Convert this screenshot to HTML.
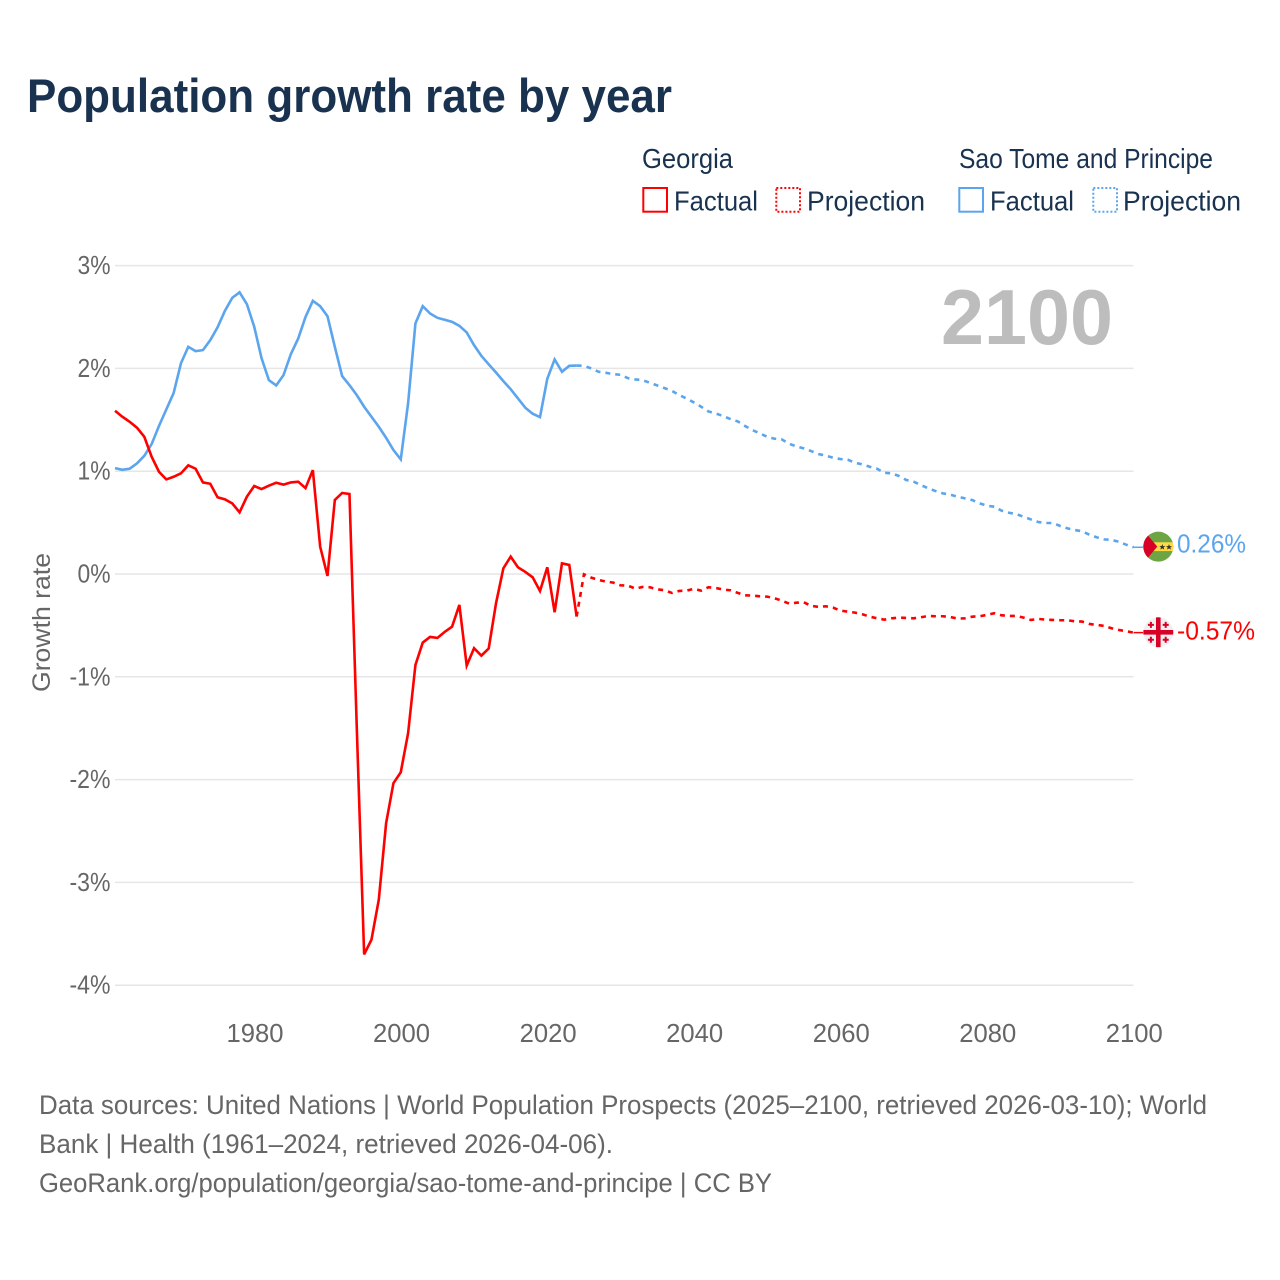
<!DOCTYPE html>
<html lang="en">
<head>
<meta charset="utf-8">
<title>Population growth rate by year</title>
<style>
html,body{margin:0;padding:0;background:#fff;}
svg{display:block;}
text{font-family:"Liberation Sans",sans-serif;}
</style>
</head>
<body>
<svg id="chart" xmlns="http://www.w3.org/2000/svg" width="1280" height="1280" viewBox="0 0 1280 1280">
<rect width="1280" height="1280" fill="#fff"/>
<text x="27" y="112" font-size="47" font-weight="700" fill="#18324f" textLength="645" lengthAdjust="spacingAndGlyphs">Population growth rate by year</text>

<g font-size="27.5" fill="#18324f">
<text x="642" y="168" textLength="91" lengthAdjust="spacingAndGlyphs">Georgia</text>
<text x="959" y="168" textLength="254" lengthAdjust="spacingAndGlyphs">Sao Tome and Principe</text>
<rect x="643.3" y="188" width="23.7" height="23.7" fill="none" stroke="#ff0000" stroke-width="2"/>
<text x="674" y="210.5" textLength="84" lengthAdjust="spacingAndGlyphs">Factual</text>
<rect x="776.3" y="188" width="23.7" height="23.7" fill="none" stroke="#ff0000" stroke-width="2" stroke-dasharray="2 2"/>
<text x="807" y="210.5" textLength="118" lengthAdjust="spacingAndGlyphs">Projection</text>
<rect x="959.3" y="188" width="23.7" height="23.7" fill="none" stroke="#5ba5ee" stroke-width="2"/>
<text x="990" y="210.5" textLength="84" lengthAdjust="spacingAndGlyphs">Factual</text>
<rect x="1093.3" y="188" width="23.7" height="23.7" fill="none" stroke="#5ba5ee" stroke-width="2" stroke-dasharray="2 2"/>
<text x="1123" y="210.5" textLength="118" lengthAdjust="spacingAndGlyphs">Projection</text>
</g>

<g id="grid"></g>
<g id="yaxis"></g>
<g id="xaxis"></g>

<text transform="translate(50,622.5) rotate(-90)" text-anchor="middle" font-size="25" fill="#666" textLength="139" lengthAdjust="spacingAndGlyphs">Growth rate</text>
<text x="941" y="344" font-size="78" font-weight="700" fill="#bdbdbd" textLength="172" lengthAdjust="spacingAndGlyphs">2100</text>

<g id="series"></g>

<g id="flag-sao-tome">
<clipPath id="clip-st"><circle cx="0" cy="0" r="15"/></clipPath>
<g clip-path="url(#clip-st)">
<rect x="-15.5" y="-15.5" width="31" height="31" fill="#6da544"/>
<rect x="-15.5" y="-4.4" width="31" height="8.8" fill="#ffda44"/>
<polygon points="-16,-16 -10.3,-11 -1,0 -10.3,11 -16,16" fill="#d80027"/>
<polygon points="4,-2.6 4.8,-0.6 7,-0.6 5.3,0.8 6,3 4,1.7 2,3 2.7,0.8 1,-0.6 3.2,-0.6" fill="#333"/>
<polygon points="10.7,-2.6 11.5,-0.6 13.7,-0.6 12,0.8 12.7,3 10.7,1.7 8.7,3 9.4,0.8 7.7,-0.6 9.9,-0.6" fill="#333"/>
</g>
</g>
<g id="flag-georgia">
<clipPath id="clip-ge"><circle cx="0" cy="0" r="15"/></clipPath>
<g clip-path="url(#clip-ge)">
<rect x="-15.5" y="-15.5" width="31" height="31" fill="#f0f0f0"/>
<rect x="-15.5" y="-2.3" width="31" height="4.6" fill="#d80027"/>
<rect x="-2.3" y="-15.5" width="4.6" height="31" fill="#d80027"/>
<path d="M-8.4-10.4h2v2h2v2h-2v2h-2v-2h-2v-2h2zM6.4-10.4h2v2h2v2h-2v2h-2v-2h-2v-2h2zM-8.4 4.4h2v2h2v2h-2v2h-2v-2h-2v-2h2zM6.4 4.4h2v2h2v2h-2v2h-2v-2h-2v-2h2z" fill="#d80027"/>
</g>
</g>
<g id="endlabels"></g>

<g font-size="26.5" fill="#666">
<text x="39" y="1114" textLength="1168" lengthAdjust="spacingAndGlyphs">Data sources: United Nations | World Population Prospects (2025–2100, retrieved 2026-03-10); World</text>
<text x="39" y="1153" textLength="574" lengthAdjust="spacingAndGlyphs">Bank | Health (1961–2024, retrieved 2026-04-06).</text>
<text x="39" y="1192" textLength="733" lengthAdjust="spacingAndGlyphs">GeoRank.org/population/georgia/sao-tome-and-principe | CC BY</text>
</g>
</svg>
<script>
var yTicks = [3, 2, 1, 0, -1, -2, -3, -4];
var xTicks = [1980, 2000, 2020, 2040, 2060, 2080, 2100];
var factualStartYear = 1961;
var projectionStartYear = 2024;
var georgiaFactual = [1.588,1.530,1.481,1.423,1.335,1.141,0.995,0.920,0.946,0.979,1.057,1.024,0.891,0.878,0.746,0.726,0.687,0.600,0.752,0.856,0.826,0.859,0.888,0.869,0.891,0.898,0.836,1.011,0.266,-0.019,0.720,0.788,0.778,-1.5,-3.70,-3.558,-3.169,-2.424,-2.035,-1.928,-1.549,-0.885,-0.667,-0.612,-0.622,-0.563,-0.512,-0.301,-0.891,-0.722,-0.794,-0.725,-0.285,0.055,0.169,0.065,0.02,-0.032,-0.165,0.065,-0.372,0.104,0.088,-0.414];
var georgiaProjection = [-0.414,-0.003,-0.035,-0.058,-0.074,-0.084,-0.11,-0.113,-0.142,-0.126,-0.129,-0.149,-0.158,-0.184,-0.165,-0.162,-0.145,-0.162,-0.129,-0.136,-0.152,-0.158,-0.184,-0.207,-0.21,-0.217,-0.22,-0.236,-0.259,-0.288,-0.279,-0.275,-0.31,-0.32,-0.314,-0.327,-0.356,-0.366,-0.376,-0.392,-0.415,-0.431,-0.444,-0.431,-0.424,-0.427,-0.431,-0.421,-0.408,-0.411,-0.411,-0.418,-0.434,-0.431,-0.415,-0.411,-0.398,-0.382,-0.402,-0.408,-0.408,-0.424,-0.447,-0.437,-0.444,-0.447,-0.45,-0.45,-0.46,-0.463,-0.486,-0.496,-0.505,-0.528,-0.544,-0.557,-0.57];
var saoTomeFactual = [1.03,1.014,1.024,1.076,1.15,1.264,1.44,1.60,1.76,2.05,2.21,2.168,2.178,2.275,2.40,2.56,2.686,2.74,2.625,2.405,2.10,1.886,1.834,1.935,2.139,2.29,2.50,2.657,2.605,2.508,2.21,1.925,1.837,1.74,1.627,1.53,1.432,1.325,1.206,1.115,1.66,2.437,2.605,2.534,2.492,2.473,2.453,2.414,2.35,2.226,2.122,2.04,1.96,1.876,1.798,1.708,1.617,1.559,1.526,1.90,2.087,1.967,2.025,2.028];
var saoTomeProjection = [2.028,2.025,2.0,1.967,1.957,1.944,1.938,1.905,1.893,1.886,1.860,1.834,1.808,1.782,1.740,1.708,1.669,1.627,1.581,1.562,1.536,1.507,1.484,1.439,1.400,1.368,1.335,1.316,1.309,1.267,1.241,1.222,1.196,1.167,1.151,1.131,1.118,1.112,1.082,1.066,1.043,1.024,0.985,0.979,0.953,0.914,0.898,0.865,0.833,0.807,0.784,0.771,0.752,0.736,0.719,0.687,0.664,0.655,0.616,0.596,0.583,0.557,0.531,0.506,0.496,0.496,0.467,0.444,0.428,0.415,0.382,0.356,0.337,0.331,0.314,0.285,0.26];
var xDomain = [1961, 2100];
var yDomain = [3, -4];
var NS = 'http://www.w3.org/2000/svg';
function xScale(year){ return 115 + (year - xDomain[0]) / (xDomain[1] - xDomain[0]) * (1133.5 - 115); }
function yScale(value){ return 265.6 + (value - yDomain[0]) / (yDomain[1] - yDomain[0]) * (985.2 - 265.6); }
function pathFrom(startYear, values){
  return values.map(function(v, i){
    return (i ? 'L' : 'M') + xScale(startYear + i).toFixed(2) + ' ' + yScale(v).toFixed(2);
  }).join('');
}
function make(tag, parentId, attrs){
  var el = document.createElementNS(NS, tag);
  Object.keys(attrs).forEach(function(k){ el.setAttribute(k, attrs[k]); });
  document.getElementById(parentId).appendChild(el);
  return el;
}
function pct(v){ return v + '%'; }

yTicks.forEach(function(t){
  var line = make('line', 'grid', {x1: 115, x2: 1133.5, y1: yScale(t), y2: yScale(t), stroke: '#e6e6e6', 'stroke-width': 1.5});
  
  
  var label = make('text', 'yaxis', {x: 110.5, y: yScale(t) + 8.5, 'text-anchor': 'end', 'font-size': 25.5, fill: '#666', textLength: t < 0 ? 41 : 33, lengthAdjust: 'spacingAndGlyphs'});
  label.textContent = pct(t);
  
  
});
xTicks.forEach(function(t){
  var label = make('text', 'xaxis', {x: xScale(t) + 0.8, y: 1042, 'text-anchor': 'middle', 'font-size': 25.5, fill: '#666', textLength: 57, lengthAdjust: 'spacingAndGlyphs'});
  label.textContent = String(t);
  
  
});

var georgiaColor = '#ff0000';
var saoTomeColor = '#5ba5ee';

var stProj = make('path', 'series', {d: pathFrom(projectionStartYear, saoTomeProjection), fill: 'none', stroke: saoTomeColor, 'stroke-width': 2.6, 'stroke-dasharray': '5 5'});


var geProj = make('path', 'series', {d: pathFrom(projectionStartYear, georgiaProjection), fill: 'none', stroke: georgiaColor, 'stroke-width': 2.6, 'stroke-dasharray': '5 5'});


var stFact = make('path', 'series', {d: pathFrom(factualStartYear, saoTomeFactual), fill: 'none', stroke: saoTomeColor, 'stroke-width': 2.6, 'stroke-linejoin': 'miter'});


var geFact = make('path', 'series', {d: pathFrom(factualStartYear, georgiaFactual), fill: 'none', stroke: georgiaColor, 'stroke-width': 2.6, 'stroke-linejoin': 'miter'});



var stEnd = saoTomeProjection[saoTomeProjection.length - 1];
var geEnd = georgiaProjection[georgiaProjection.length - 1];
var stLeader = make('line', 'series', {x1: 1133.5, x2: 1143, y1: yScale(stEnd), y2: yScale(stEnd), stroke: saoTomeColor, 'stroke-width': 1.5});


var geLeader = make('line', 'series', {x1: 1133.5, x2: 1143, y1: yScale(geEnd), y2: yScale(geEnd), stroke: georgiaColor, 'stroke-width': 1.5});



document.getElementById('flag-sao-tome').setAttribute('transform', 'translate(1158.3,' + (yScale(stEnd) - 0.6) + ')');
document.getElementById('flag-georgia').setAttribute('transform', 'translate(1158.3,' + (yScale(geEnd) - 0.3) + ')');

var stLabel = make('text', 'endlabels', {x: 1177, y: yScale(stEnd) + 5.4, 'font-size': 26, fill: saoTomeColor, textLength: 69, lengthAdjust: 'spacingAndGlyphs'});
stLabel.textContent = stEnd.toFixed(2) + '%';


var geLabel = make('text', 'endlabels', {x: 1177, y: yScale(geEnd) + 6.7, 'font-size': 26, fill: georgiaColor, textLength: 78, lengthAdjust: 'spacingAndGlyphs'});
geLabel.textContent = geEnd.toFixed(2) + '%';


</script>
</body>
</html>
